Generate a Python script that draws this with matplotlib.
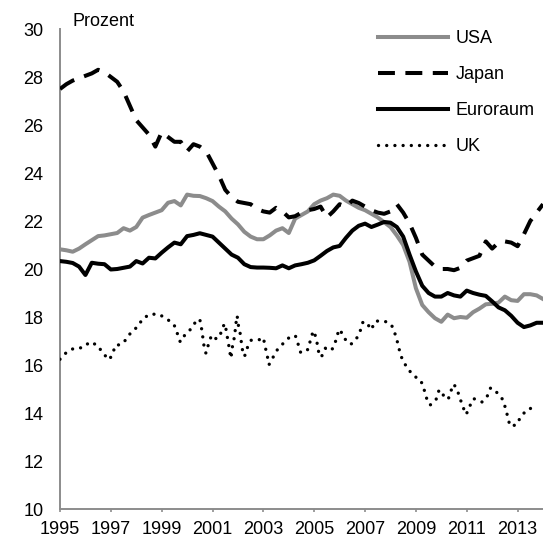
import matplotlib
matplotlib.use("Agg")
import matplotlib.pyplot as plt
import numpy as np

plt.rcParams['font.family'] = ['Liberation Sans', 'DejaVu Sans']

# quarterly observations, 1995Q1 .. 2014Q1
start_year = 1995.0
usa = [20.82, 20.78, 20.72, 20.85,
       21.03, 21.2, 21.37, 21.4,
       21.45, 21.5, 21.7, 21.6,
       21.75, 22.14, 22.25, 22.35,
       22.45, 22.76, 22.83, 22.65,
       23.1, 23.05, 23.04, 22.95,
       22.83, 22.6, 22.4, 22.1,
       21.86, 21.55, 21.35, 21.24,
       21.24, 21.4, 21.6, 21.7,
       21.5, 22.1, 22.25, 22.4,
       22.7, 22.85, 22.95, 23.1,
       23.05, 22.85, 22.7, 22.55,
       22.45, 22.3, 22.15, 21.95,
       21.75, 21.4, 21.0, 20.3,
       19.2, 18.5, 18.2, 17.95,
       17.8, 18.1, 17.95, 18.0,
       17.97, 18.2, 18.35, 18.53,
       18.55, 18.6, 18.85, 18.7,
       18.67, 18.95, 18.95, 18.9,
       18.75]
japan = [27.5, 27.7, 27.85, 27.95,
         28.05, 28.15, 28.3, 28.2,
         28.0, 27.8, 27.4, 26.8,
         26.2, 25.9, 25.6, 25.1,
         25.7, 25.5, 25.3, 25.3,
         24.9, 25.2, 25.1, 24.9,
         24.4, 23.9, 23.3, 23.0,
         22.8, 22.75, 22.7, 22.5,
         22.4, 22.35, 22.55, 22.4,
         22.15, 22.2, 22.35, 22.45,
         22.5, 22.6, 22.15, 22.4,
         22.7, 22.6, 22.85, 22.75,
         22.6, 22.45, 22.35, 22.3,
         22.4, 22.7, 22.35, 21.9,
         21.3, 20.6, 20.35, 20.1,
         20.0, 20.0, 19.95, 20.05,
         20.35, 20.45, 20.55, 21.15,
         20.85, 21.1, 21.15, 21.1,
         20.95, 21.45, 22.0, 22.35,
         22.7]
euro = [20.33, 20.3, 20.25, 20.1,
        19.75, 20.26, 20.22, 20.2,
        19.98, 20.0, 20.05, 20.1,
        20.33, 20.23, 20.47, 20.44,
        20.68, 20.9, 21.1, 21.03,
        21.37, 21.42, 21.49, 21.42,
        21.35, 21.1, 20.85, 20.6,
        20.47, 20.2, 20.08, 20.06,
        20.06, 20.05, 20.03, 20.15,
        20.03, 20.15, 20.2, 20.26,
        20.36, 20.55, 20.75, 20.9,
        20.96, 21.3, 21.6, 21.8,
        21.89, 21.75, 21.85, 21.96,
        21.93, 21.75, 21.35, 20.6,
        19.9, 19.3, 19.0, 18.85,
        18.85, 19.0, 18.9, 18.85,
        19.1, 19.0, 18.93, 18.88,
        18.65, 18.4, 18.28, 18.05,
        17.76, 17.58, 17.65, 17.76,
        17.76]

# UK series (denser, monthly-like path)
uk_years = [1995.0, 1995.24, 1995.55, 1995.89, 1996.18, 1996.48, 1996.68, 1996.93,
            1997.07, 1997.17, 1997.4, 1997.59, 1997.8, 1998.07, 1998.25, 1998.55,
            1998.9, 1999.23, 1999.49, 1999.62, 1999.73, 1999.93, 2000.19, 2000.37,
            2000.5, 2000.57, 2000.62, 2000.67, 2000.74, 2000.84, 2000.96, 2001.16,
            2001.3, 2001.42, 2001.5, 2001.55, 2001.62, 2001.67, 2001.73, 2001.76,
            2001.84, 2001.89, 2001.93, 2001.97, 2002.0, 2002.09, 2002.14, 2002.19,
            2002.26, 2002.38, 2002.52, 2002.81, 2003.0, 2003.07, 2003.15, 2003.22,
            2003.36, 2003.53, 2003.78, 2004.04, 2004.26, 2004.37, 2004.47, 2004.76,
            2004.85, 2004.96, 2005.05, 2005.13, 2005.19, 2005.28, 2005.44, 2005.68,
            2005.81, 2005.9, 2006.01, 2006.18, 2006.44, 2006.65, 2006.81, 2006.92,
            2007.07, 2007.24, 2007.41, 2007.62, 2007.85, 2008.04, 2008.17, 2008.27,
            2008.36, 2008.47, 2008.66, 2008.89, 2009.19, 2009.31, 2009.41, 2009.56,
            2009.79, 2009.9, 2010.0, 2010.13, 2010.28, 2010.39, 2010.5, 2010.66,
            2010.78, 2010.89, 2010.98, 2011.12, 2011.27, 2011.6, 2011.81, 2011.94,
            2012.19, 2012.41, 2012.52, 2012.61, 2012.7, 2012.95, 2013.13, 2013.38,
            2013.71]
uk_values = [16.24, 16.51, 16.7, 16.72, 16.96, 16.82, 16.5, 16.22,
             16.44, 16.82, 16.85, 17.05, 17.37, 17.61, 17.93, 18.12,
             18.11, 17.9, 17.67, 17.3, 16.96, 17.28, 17.54, 17.87,
             17.9, 17.51, 17.14, 16.75, 16.49, 16.86, 17.24, 17.08,
             17.25, 17.62, 17.72, 17.33, 16.96, 16.58, 16.28, 16.65,
             17.04, 17.42, 17.8, 18.05, 17.74, 17.3, 16.9, 16.54,
             16.36, 16.75, 17.03, 17.04, 17.14, 16.76, 16.4, 16.01,
             16.28, 16.61, 16.9, 17.17, 17.22, 16.86, 16.51, 16.65,
             17.03, 17.42, 17.21, 16.83, 16.44, 16.33, 16.7, 16.61,
             16.86, 17.25, 17.49, 17.11, 16.86, 17.07, 17.42, 17.8,
             17.76, 17.47, 17.83, 17.83, 17.8, 17.67, 17.33, 16.97,
             16.58, 16.21, 15.88, 15.57, 15.36, 15.03, 14.64, 14.33,
             14.55, 14.92, 14.95, 14.61, 14.6, 14.95, 15.2, 14.85,
             14.47, 14.15, 13.94, 14.29, 14.6, 14.46, 14.71, 15.05,
             14.85, 14.57, 14.22, 13.85, 13.46, 13.5, 13.85, 14.15,
             14.25]

labels = ["USA", "Japan", "Euroraum", "UK"]
x_ticks = list(range(1995, 2014, 2))
y_ticks = list(range(10, 31, 2))

q = start_year + np.arange(len(usa)) / 4.0

fs = 13
fig = plt.figure(figsize=(5.43, 5.40), dpi=100)
ax = fig.add_axes([60 / 543, 1 - 509 / 540, 483 / 543, 480 / 540])

gray = '#8c8c8c'
lw = 2.9
ax.plot(q, usa, color=gray, lw=lw, solid_joinstyle='round', label=labels[0], zorder=3)
ax.plot(q, japan, color='black', lw=lw, linestyle=(0, (4.2, 2.6)),
        dash_capstyle='butt', label=labels[1], zorder=4)
ax.plot(q, euro, color='black', lw=lw, solid_joinstyle='round', label=labels[2], zorder=3)
ax.plot(uk_years, uk_values, color='black', lw=2.4, linestyle=(0, (0.01, 2.45)),
        dash_capstyle='round', label=labels[3], zorder=3)

ax.set_xlim(1995, 2014)
ax.set_ylim(10, 30)
ax.set_xticks(x_ticks)
ax.set_yticks(y_ticks)
ax.set_xticklabels([str(t) for t in x_ticks])
ax.set_yticklabels([str(t) for t in y_ticks])

for s in ['top', 'right']:
    ax.spines[s].set_visible(False)
for s in ['left', 'bottom']:
    ax.spines[s].set_color(gray)
    ax.spines[s].set_linewidth(1.4)

ax.tick_params(axis='y', length=0, pad=12, labelsize=fs, labelcolor='black')
ax.tick_params(axis='x', length=2.5, width=1.2, color=gray, direction='out',
               pad=6, labelsize=fs, labelcolor='black')

fig.text(73 / 543, 1 - 21 / 540, "Prozent", fontsize=fs, va='center', ha='left')

leg = ax.legend(loc='upper left', bbox_to_anchor=(378 / 543, 1 - 30 / 540),
                bbox_transform=fig.transFigure, frameon=False, fontsize=fs,
                handlelength=3.9, handletextpad=0.38, labelspacing=1.06,
                borderpad=0, borderaxespad=0)

fig.savefig("out.png", dpi=100)
